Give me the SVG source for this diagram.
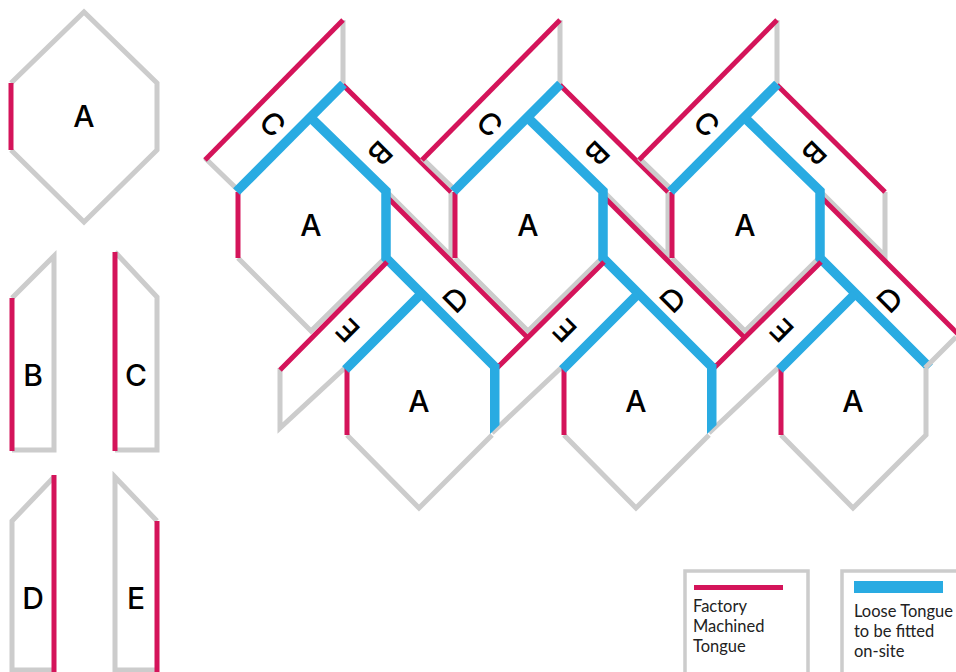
<svg xmlns="http://www.w3.org/2000/svg" width="956" height="672" viewBox="0 0 956 672">
<style>
.g{fill:none;stroke:#cccccc;stroke-width:5;stroke-linejoin:miter}
.lg{fill:none;stroke:#cccccc;stroke-width:3.5}
.r{fill:none;stroke:#d4145a;stroke-width:5}
.r5{fill:none;stroke:#d4145a;stroke-width:5}
.b{fill:none;stroke:#29abe2;stroke-width:9.500;stroke-linejoin:miter}
.bf{fill:#29abe2}
.l{font-family:"Inter","Liberation Sans",sans-serif;font-size:30px;font-weight:500;fill:#000;text-anchor:middle}
.t{font-family:"Lato","Liberation Sans",sans-serif;font-size:16.5px;fill:#222}
</style>
<defs>
<g id="ca">
<path class="g" d="M238 190L205 158M343 85V20"/>
<path class="g" d="M385 190L451 256V192"/>
<path class="g" d="M238 258L311 331L385 258"/>
<path class="r" d="M205 160L343 20"/>
<path class="r" d="M343 85L451 192"/>
<path class="r" d="M238 192V258"/>
<path class="r" d="M386 196L527 337"/>
<path class="b" d="M236.500 191.500L343.500 84"/>
<path class="b" d="M311 118L386 191V258L495.500 367.500"/>
<text class="l" transform="translate(272.500 124) rotate(45)" y="10.500">C</text>
<text class="l" transform="translate(380 153) rotate(135)" y="10.500">B</text>
<text class="l" x="311" y="236">A</text>
<text class="l" transform="translate(456 300) rotate(-45)" y="10.500">D</text>
<text class="l" transform="translate(348 330) rotate(-135)" y="10.500">E</text>
</g>
</defs>
<g id="part-a">
<path class="g" d="M11 150L84 222L157 150V83L84 12L11 83"/>
<path class="r5" d="M11 83V150"/>
<text class="l" x="84" y="127">A</text>
</g>
<g id="part-b">
<path class="g" d="M12 298L54 256V450H12"/>
<path class="r5" d="M12 298V451"/>
<text class="l" x="33" y="386">B</text>
</g>
<g id="part-c">
<path class="g" d="M115 252L157 297V450H115"/>
<path class="r5" d="M115 252V451"/>
<text class="l" x="136" y="386">C</text>
</g>
<g id="part-d">
<path class="g" d="M54 477L12 521V670H54"/>
<path class="r5" d="M54 475V672"/>
<text class="l" x="33" y="609">D</text>
</g>
<g id="part-e">
<path class="g" d="M157 521L115 477V670H157"/>
<path class="r5" d="M157 521V672"/>
<text class="l" x="136" y="609">E</text>
</g>
<g id="row-1-col-1"><use href="#ca"/></g>
<g id="row-1-col-2"><use href="#ca" x="217"/></g>
<g id="row-1-col-3"><use href="#ca" x="434"/></g>
<g id="row-2">
<path class="g" d="M280 368V428L347 366"/>
<path class="g" d="M492 433L563 366M709 433L780 366M925 368L956 337"/>
<path class="g" d="M347 435L419 508L492 435"/>
<path class="g" d="M564 435L636 508L709 435"/>
<path class="g" d="M781 435L853 508L926 435V368"/>
<path class="r" d="M280 370L387 262M495 370L604 262M712 370L821 262"/>
<path class="r" d="M347 368V435M564 368V435M781 368V435"/>
<path class="b" d="M345.500 369.500L421 294M562.500 369.500L638 294M779.500 369.500L855 294"/>
<polygon class="bf" points="490,364 499.500,364 499.500,425 490,434"/>
<polygon class="bf" points="707,364 716.500,364 716.500,425 707,434"/>
<text class="l" x="419" y="412">A</text>
<text class="l" x="636" y="412">A</text>
<text class="l" x="853" y="412">A</text>
</g>
<g id="legend-factory">
<path class="lg" d="M685 672V571H808V672"/>
<rect x="694" y="585" width="89" height="5" fill="#d4145a"/>
<text class="t"><tspan x="693" y="612">Factory</tspan><tspan x="693" y="632">Machined</tspan><tspan x="693" y="652">Tongue</tspan></text>
</g>
<g id="legend-loose">
<path class="lg" d="M842 672V571H956"/>
<rect x="854" y="581" width="89" height="12" fill="#29abe2"/>
<text class="t"><tspan x="854" y="617">Loose Tongue</tspan><tspan x="854" y="637">to be fitted</tspan><tspan x="854" y="657">on-site</tspan></text>
</g>
</svg>
